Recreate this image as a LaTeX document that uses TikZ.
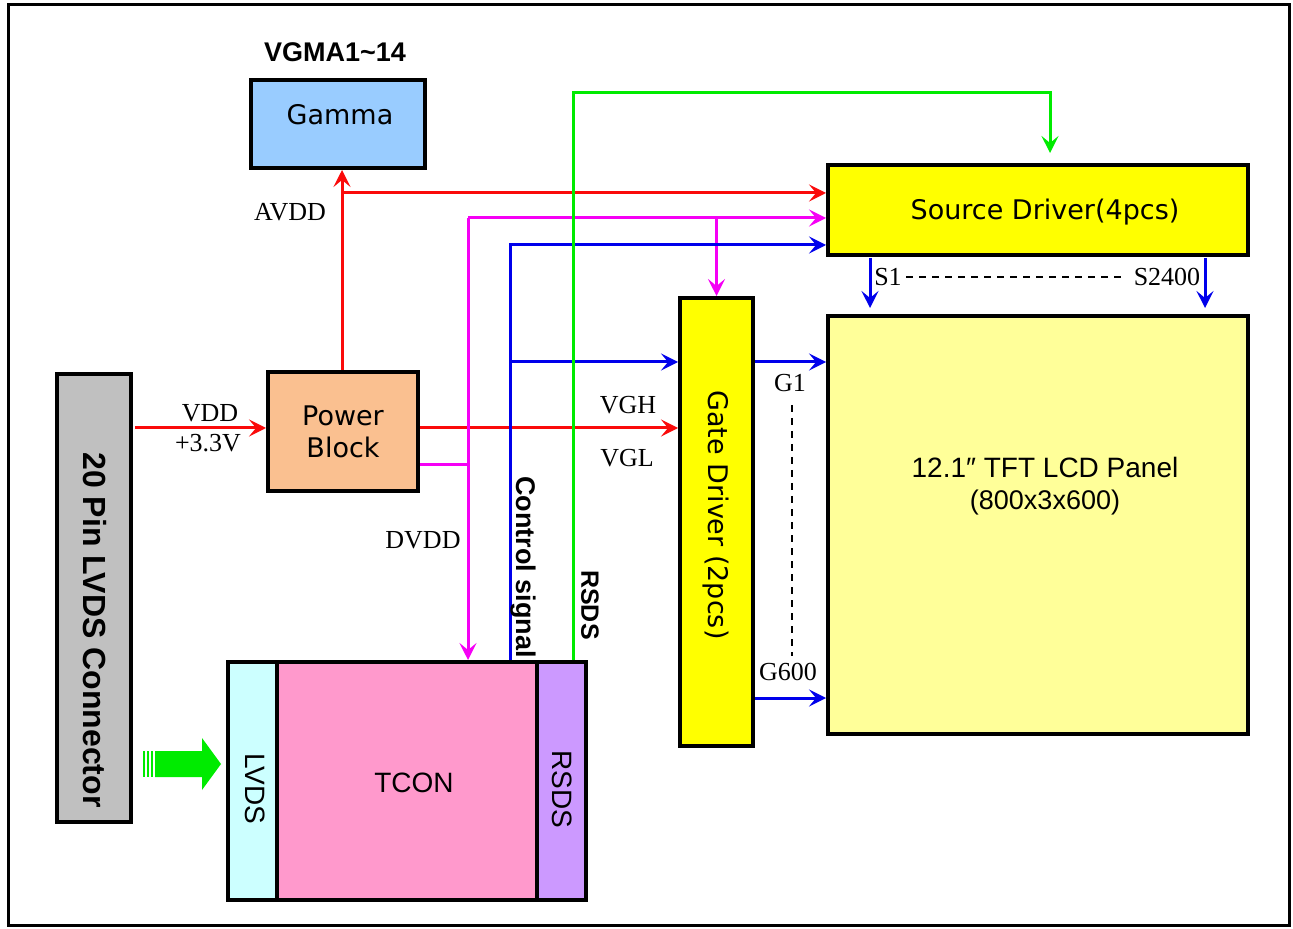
\documentclass[tikz,border=0pt]{standalone}
\usepackage{fontspec}
\setmainfont{Liberation Serif}
\newfontfamily\arialf{Liberation Sans}
\newfontfamily\tahomaf{DejaVu Sans}
\usetikzlibrary{arrows.meta}

\definecolor{linered}{RGB}{250,10,10}
\definecolor{linemag}{RGB}{245,0,245}
\definecolor{lineblue}{RGB}{0,0,235}
\definecolor{linegreen}{RGB}{0,235,0}
\definecolor{gammablue}{RGB}{153,204,255}
\definecolor{powerorange}{RGB}{250,192,144}
\definecolor{conngray}{RGB}{192,192,192}
\definecolor{lvdscyan}{RGB}{204,255,255}
\definecolor{tconpink}{RGB}{255,153,204}
\definecolor{rsdspurple}{RGB}{204,153,255}
\definecolor{drvyellow}{RGB}{255,255,0}
\definecolor{panelyellow}{RGB}{255,255,153}

\tikzset{
  blk/.style={draw, line width=2pt, inner sep=0pt, font=\tahomaf\fontsize{13.5}{16}\selectfont},
  wire/.style={line width=1.5pt},
  arr/.style={-{Stealth[length=8.5pt,width=8.5pt,inset=3.5pt]}},
  lbl/.style={inner sep=0pt, font=\fontsize{13}{15}\selectfont},
  bold/.style={inner sep=0pt, font=\arialf\bfseries\fontsize{13.5}{16}\selectfont},
  sans/.style={inner sep=0pt, font=\arialf\fontsize{14}{16}\selectfont},
}

\begin{document}
\begin{tikzpicture}[x=0.5pt,y=-0.5pt]
    \useasboundingbox (0,0) rectangle (1293,929);
    \draw[line width=1.5pt] (8,5) rectangle (1289,925);

    % blocks
    \node[blk, fill=gammablue, minimum width=87pt, minimum height=44pt] (gamma) at (338,124) {};
    \node[blk, draw=none] (gamma-txt) at (340,115) {Gamma};
    \node[bold] (vgma) at (335,52) {VGMA1\textasciitilde14};
    \node[blk, fill=powerorange, minimum width=75pt, minimum height=59.5pt, align=center] (power) at (343,431.5) {Power\\Block};
    \node[blk, fill=conngray, minimum width=37pt, minimum height=224pt] (conn) at (94,598) {};
    \node[bold, font=\arialf\bfseries\fontsize{16}{18}\selectfont, rotate=-90] (conn-txt) at (95,630) {20 Pin LVDS Connector};
    \node[blk, fill=lvdscyan, minimum width=24.5pt, minimum height=119pt] (lvds) at (252.5,781) {};
    \node[blk, fill=tconpink, minimum width=130pt, minimum height=119pt] (tcon) at (407,781) {};
    \node[blk, fill=rsdspurple, minimum width=24.5pt, minimum height=119pt] (rsds) at (561.5,781) {};
    \node[sans, rotate=-90] (lvds-txt) at (255,789) {LVDS};
    \node[sans] (tcon-txt) at (414,783) {TCON};
    \node[sans, rotate=-90] (rsds-txt) at (562,789) {RSDS};
    \node[blk, fill=drvyellow, minimum width=210pt, minimum height=45pt] (src) at (1038,210) {};
    \node[blk, draw=none] (src-txt) at (1045,212) {Source Driver(4pcs)};
    \node[blk, fill=drvyellow, minimum width=36.5pt, minimum height=224pt] (gate) at (716.5,522) {};
    \node[blk, draw=none, rotate=-90] (gate-txt) at (716,515) {Gate Driver (2pcs)};
    \node[blk, fill=panelyellow, minimum width=210pt, minimum height=209pt] (panel) at (1038,525) {};
    \node[sans, align=center] (panel-txt) at (1045,486) {12.1″ TFT LCD Panel\\{\fontsize{13.5}{16}\selectfont(800x3x600)}};

    % LVDS input arrow
    \fill[linegreen] (155,751) -- (202,751) -- (202,738) -- (221,764) -- (202,790) -- (202,777) -- (155,777) -- cycle;
    \foreach \x in {143,147,151} {\fill[linegreen] (\x,751) rectangle ++(2,26);}

    % power lines
    \coordinate (vdd-in) at (135,428);
    \coordinate (vg-row) at (0,428);
    \coordinate (avdd) at (342,193);
    \draw[wire, linered, arr] (vdd-in) -- (vdd-in -| power.west);
    \draw[wire, linered, arr] (avdd |- power.north) -- (avdd |- gamma.south);
    \draw[wire, linered, arr] (avdd) -- (avdd -| src.west);
    \draw[wire, linered, arr] (power.east |- vg-row) -- (gate.west |- vg-row);

    \coordinate (dvdd) at (468,218);
    \draw[wire, linemag] (power.east |- 0,465) -- (dvdd |- 0,465);
    \draw[wire, linemag, arr] (dvdd) -- (dvdd |- tcon.north);
    \draw[wire, linemag, arr] (dvdd) -- (dvdd -| src.west);
    \draw[wire, linemag, arr] (gate.north |- dvdd) -- (gate.north);

    % control and data
    \coordinate (ctrl) at (510,245);
    \draw[wire, lineblue, arr] (ctrl |- tcon.north) -- (ctrl) -- (ctrl -| src.west);
    \draw[wire, lineblue, arr] (ctrl |- 0,362) -- (gate.west |- 0,362);
    \coordinate (rsds-up) at (573,93);
    \coordinate (rsds-over) at (1050,93);
    \draw[wire, linegreen, arr, shorten >=5pt] (rsds-up |- tcon.north) -- (rsds-up) -- (rsds-over) -- (rsds-over |- src.north);

    % gate and source outputs
    \draw[wire, lineblue, arr] (gate.east |- 0,362) -- (panel.west |- 0,362);
    \draw[wire, lineblue, arr] (gate.east |- 0,698) -- (panel.west |- 0,698);
    \draw[wire, lineblue, arr, shorten >=3pt] (870,258) -- (panel.north -| 870,0);
    \draw[wire, lineblue, arr, shorten >=3pt] (1205,258) -- (panel.north -| 1205,0);
    \draw[line width=0.8pt, dash pattern=on 3.5pt off 3pt] (792,405) -- (792,656);
    \draw[line width=0.8pt, dash pattern=on 3.5pt off 3pt] (906,277) -- (1126,277);

    % labels
    \node[lbl] (avdd-lbl) at (290,212) {AVDD};
    \node[lbl] (vdd-lbl) at (210,413) {VDD};
    \node[lbl] (v33-lbl) at (208,443) {+3.3V};
    \node[lbl] (vgh-lbl) at (628,405) {VGH};
    \node[lbl] (vgl-lbl) at (627,458) {VGL};
    \node[lbl] (dvdd-lbl) at (423,540) {DVDD};
    \node[bold, rotate=-90] (ctrl-lbl) at (523,567) {Control signal};
    \node[bold, font=\arialf\bfseries\fontsize{12.5}{15}\selectfont, rotate=-90] (rsds-lbl) at (590,605) {RSDS};
    \node[lbl] (g1-lbl) at (790,383) {G1};
    \node[lbl] (g600-lbl) at (788,672) {G600};
    \node[lbl] (s1-lbl) at (888,277) {S1};
    \node[lbl] (s2400-lbl) at (1167,277) {S2400};
\end{tikzpicture}
\end{document}
